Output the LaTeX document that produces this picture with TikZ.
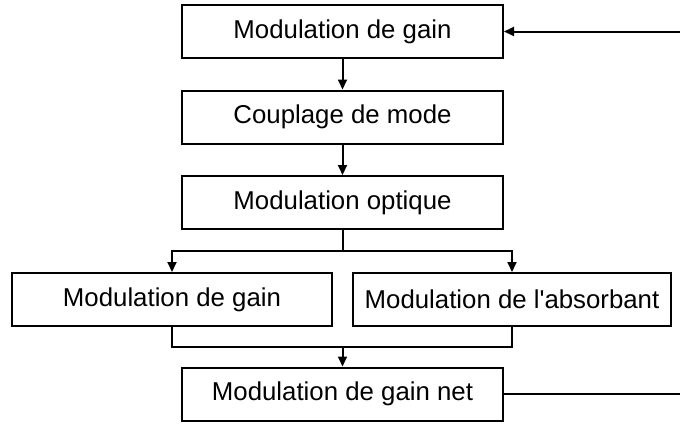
\documentclass[tikz,border=0pt]{standalone}
\usepackage{fontspec}
\setmainfont{Liberation Sans}
\usetikzlibrary{arrows.meta}
\begin{document}
\begin{tikzpicture}[x=1pt,y=-1pt,
  box/.style={draw,line width=2pt,minimum height=53pt,inner sep=0pt,
    font=\fontsize{25.8}{30}\selectfont},
  wide/.style={box,minimum width=321pt},
  conn/.style={line width=2pt},
  arr/.style={conn,-{Triangle[length=10pt,width=9pt]}}]
\useasboundingbox (0,0) rectangle (680,423);
\node[wide] (b1) at (342.5,31.5) {Modulation de gain};
\node[wide] (b2) at (342.5,117) {Couplage de mode};
\node[wide] (b3) at (342.5,202.5) {Modulation optique};
\node[box,minimum width=320pt] (l) at (172,299.5) {Modulation de gain};
\node[box,minimum width=318pt] (r) at (512,299.5) {Modulation de l\textquotesingle absorbant};
\node[wide] (b5) at (342.5,394) {Modulation de gain net};
\coordinate (split) at (342.5,251);
\coordinate (merge) at (342.5,347);
\coordinate (fbT) at (681,31.5);
\coordinate (fbB) at (681,394);
\draw[arr] (b1) -- (b2);
\draw[arr] (b2) -- (b3);
\draw[conn] (b3.south) -- (split);
\draw[arr] (split) -| (l.north);
\draw[arr] (split) -| (r.north);
\draw[conn] (l.south) |- (merge) -| (r.south);
\draw[arr] (merge) -- (b5.north);
\draw[conn] (b5.east) -- (fbB);
\draw[arr] (fbT) -- (b1.east);
\end{tikzpicture}
\end{document}
